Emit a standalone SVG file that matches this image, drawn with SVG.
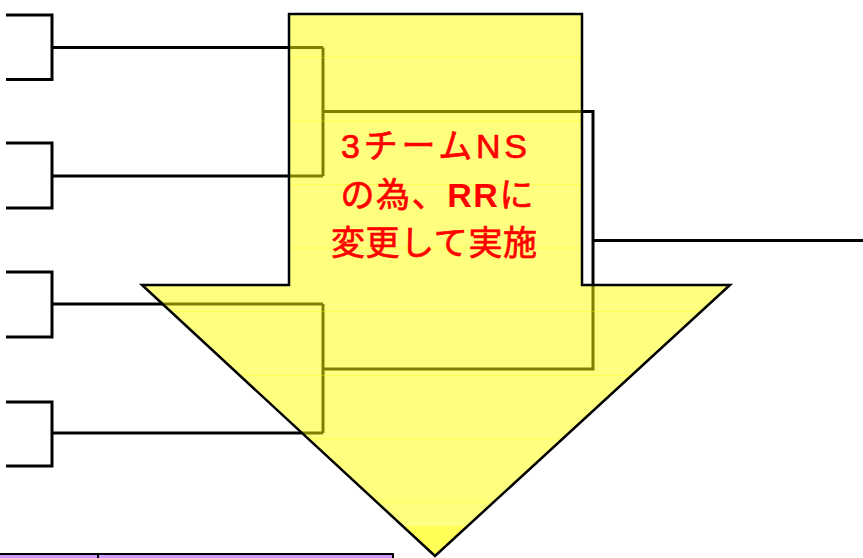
<svg xmlns="http://www.w3.org/2000/svg" width="863" height="558" viewBox="0 0 863 558">
<style>
.br{fill:none;stroke:#000;stroke-width:3;stroke-linecap:butt;stroke-linejoin:miter}
.band{stroke:#ffff00;stroke-width:1;opacity:0.35}
.lbl{font-family:"Liberation Sans","Noto Sans CJK JP",sans-serif;font-size:34px;font-weight:normal;fill:#ff0000;stroke:#ff0000;stroke-width:0.7;text-anchor:middle}
.b{font-weight:bold;stroke-width:0}
</style>
<defs>
<clipPath id="arrowClip"><polygon points="289,14 582,14 582,285 730,285 435,556 142,285 289,285"/></clipPath>
</defs>
<rect width="863" height="558" fill="#fff"/>
<g id="connectors">
<polyline class="br" points="6,15 52,15 52,79.5 6,79.5"/>
<polyline class="br" points="52,47.5 323,47.5"/>
<polyline class="br" points="6,143 52,143 52,208 6,208"/>
<polyline class="br" points="52,176 323,176"/>
<polyline class="br" points="6,272 52,272 52,337 6,337"/>
<polyline class="br" points="52,304 323,304"/>
<polyline class="br" points="6,402 52,402 52,466 6,466"/>
<polyline class="br" points="52,433 323,433"/>
<polyline class="br" points="323,47.5 323,176"/>
<polyline class="br" points="323,111.5 593,111.5 593,369 323,369"/>
<polyline class="br" points="323,304 323,433"/>
<polyline class="br" points="593,240.5 863,240.5"/>
</g>
<g id="arrow">
<polygon points="289,14 582,14 582,285 730,285 435,556 142,285 289,285" fill="#ffff00" fill-opacity="0.5"/>
<g clip-path="url(#arrowClip)">
<rect x="140" y="526" width="600" height="32" fill="#ffff00" opacity="0.3"/>
<line class="band" x1="140" y1="57.5" x2="740" y2="57.5"/>
<line class="band" x1="140" y1="121" x2="740" y2="121"/>
<line class="band" x1="140" y1="184.5" x2="740" y2="184.5"/>
<line class="band" x1="140" y1="248" x2="740" y2="248"/>
<line class="band" x1="140" y1="311.5" x2="740" y2="311.5"/>
<line class="band" x1="140" y1="375.5" x2="740" y2="375.5"/>
<line class="band" x1="140" y1="438.5" x2="740" y2="438.5"/>
<line class="band" x1="140" y1="502" x2="740" y2="502"/>
</g>
<polygon points="289,14 582,14 582,285 730,285 435,556 142,285 289,285" fill="none" stroke="#000" stroke-width="2.5" stroke-linejoin="miter"/>
</g>
<g id="label">
<text class="lbl" x="434" y="158" textLength="186" lengthAdjust="spacing">3チームNS</text>
<text class="lbl" x="437" y="207" textLength="193" lengthAdjust="spacing">の為、<tspan class="b">RR</tspan>に</text>
<text class="lbl" x="434" y="255" textLength="206" lengthAdjust="spacing">変更して実施</text>
</g>
<g id="table">
<rect x="-2" y="554" width="395" height="10" fill="#cc99ff" stroke="#000" stroke-width="2"/>
<line x1="98" y1="554" x2="98" y2="558" stroke="#000" stroke-width="2"/>
</g>
</svg>
